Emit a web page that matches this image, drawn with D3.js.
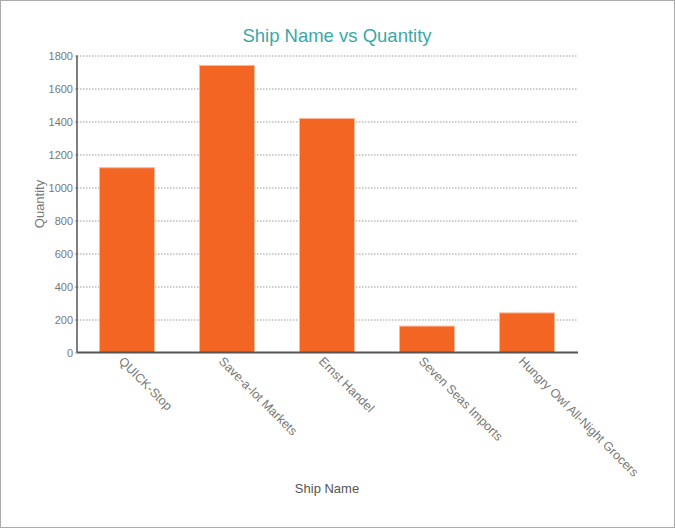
<!DOCTYPE html>
<html lang="en">
<head>
<meta charset="UTF-8">
<title>Ship Name vs Quantity</title>
<script src="https://d3js.org/d3.v7.min.js"></script>
<style>
  body { margin: 0; background: #fff; }
  svg { display: block; font-family: "Liberation Sans", Arial, sans-serif; }
  .grid line { stroke: #999; stroke-dasharray: 1.5,1.5; }
  .grid .domain { display: none; }
  .y-axis text { fill: #777; font-size: 11px; }
  .x-label { fill: #777; font-size: 12.5px; }
</style>
</head>
<body>
<svg width="675" height="529"></svg>
<script>
  // data
  var shipNames = ["QUICK-Stop", "Save-a-lot Markets", "Ernst Handel", "Seven Seas Imports", "Hungry Owl All-Night Grocers"];
  var quantities = [1120, 1740, 1418, 160, 240];
  var yTicks = [0, 200, 400, 600, 800, 1000, 1200, 1400, 1600, 1800];

  var margin = {top: 55.5, left: 77, right: 98, bottom: 176.5};
  var width = 675 - margin.left - margin.right;   // 500
  var height = 529 - margin.top - margin.bottom;  // 297

  var svg = d3.select("svg");

  // outer frame
  svg.append("rect")
    .attr("x", 0.5).attr("y", 0.5)
    .attr("width", 674).attr("height", 527)
    .attr("fill", "none")
    .attr("stroke", "#aaa");

  // title
  svg.append("text")
    .attr("x", 337)
    .attr("y", 42)
    .attr("text-anchor", "middle")
    .style("font-size", "18.5px")
    .style("fill", "#3aa8a8")
    .text("Ship Name vs Quantity");

  var g = svg.append("g")
    .attr("transform", "translate(" + margin.left + "," + margin.top + ")");

  var x = d3.scaleBand()
    .domain(shipNames)
    .range([0, width])
    .paddingInner(0.45)
    .paddingOuter(0.225);

  var y = d3.scaleLinear()
    .domain([0, 1800])
    .range([height, 0]);

  // gridlines
  g.append("g")
    .attr("class", "grid")
    .call(d3.axisLeft(y).tickValues(yTicks.slice(1)).tickSize(-width).tickFormat(""))
    .selectAll(".tick line").attr("x1", 0);

  // y axis labels
  var yAxis = g.append("g")
    .attr("class", "y-axis")
    .call(d3.axisLeft(y).tickValues(yTicks).tickFormat(d3.format("d")).tickSize(2).tickPadding(2));
  yAxis.select(".domain").remove();
  yAxis.selectAll(".tick line").attr("stroke", "#999");

  // bars
  g.selectAll(".bar")
    .data(quantities)
    .enter()
    .append("rect")
    .attr("class", "bar")
    .attr("x", function(d, i) { return x(shipNames[i]); })
    .attr("y", function(d) { return y(d); })
    .attr("width", x.bandwidth())
    .attr("height", function(d) { return height - y(d); })
    .attr("fill", "#f36523")
    .attr("stroke", "#fbb894")
    .attr("stroke-width", 1);

  // axis lines
  g.append("line")
    .attr("x1", 0).attr("x2", 0)
    .attr("y1", 0).attr("y2", height)
    .attr("stroke", "#555").attr("stroke-width", 1.5);
  g.append("line")
    .attr("x1", 0).attr("x2", width + 1)
    .attr("y1", height).attr("y2", height)
    .attr("stroke", "#555").attr("stroke-width", 2);

  // x labels rotated
  g.selectAll(".x-label")
    .data(shipNames)
    .enter()
    .append("text")
    .attr("class", "x-label")
    .attr("transform", function(d) {
      return "translate(" + (x(d) + x.bandwidth() / 2 - 9) + "," + (height + 9.5) + ") rotate(45)";
    })
    .attr("text-anchor", "start")
    .text(function(d) { return d; });

  // axis titles
  svg.append("text")
    .attr("x", margin.left + width / 2)
    .attr("y", 493)
    .attr("text-anchor", "middle")
    .style("font-size", "13px")
    .style("fill", "#555")
    .text("Ship Name");

  svg.append("text")
    .attr("transform", "translate(44," + (margin.top + height / 2) + ") rotate(-90)")
    .attr("text-anchor", "middle")
    .style("font-size", "13px")
    .style("fill", "#777")
    .text("Quantity");
</script>
</body>
</html>
